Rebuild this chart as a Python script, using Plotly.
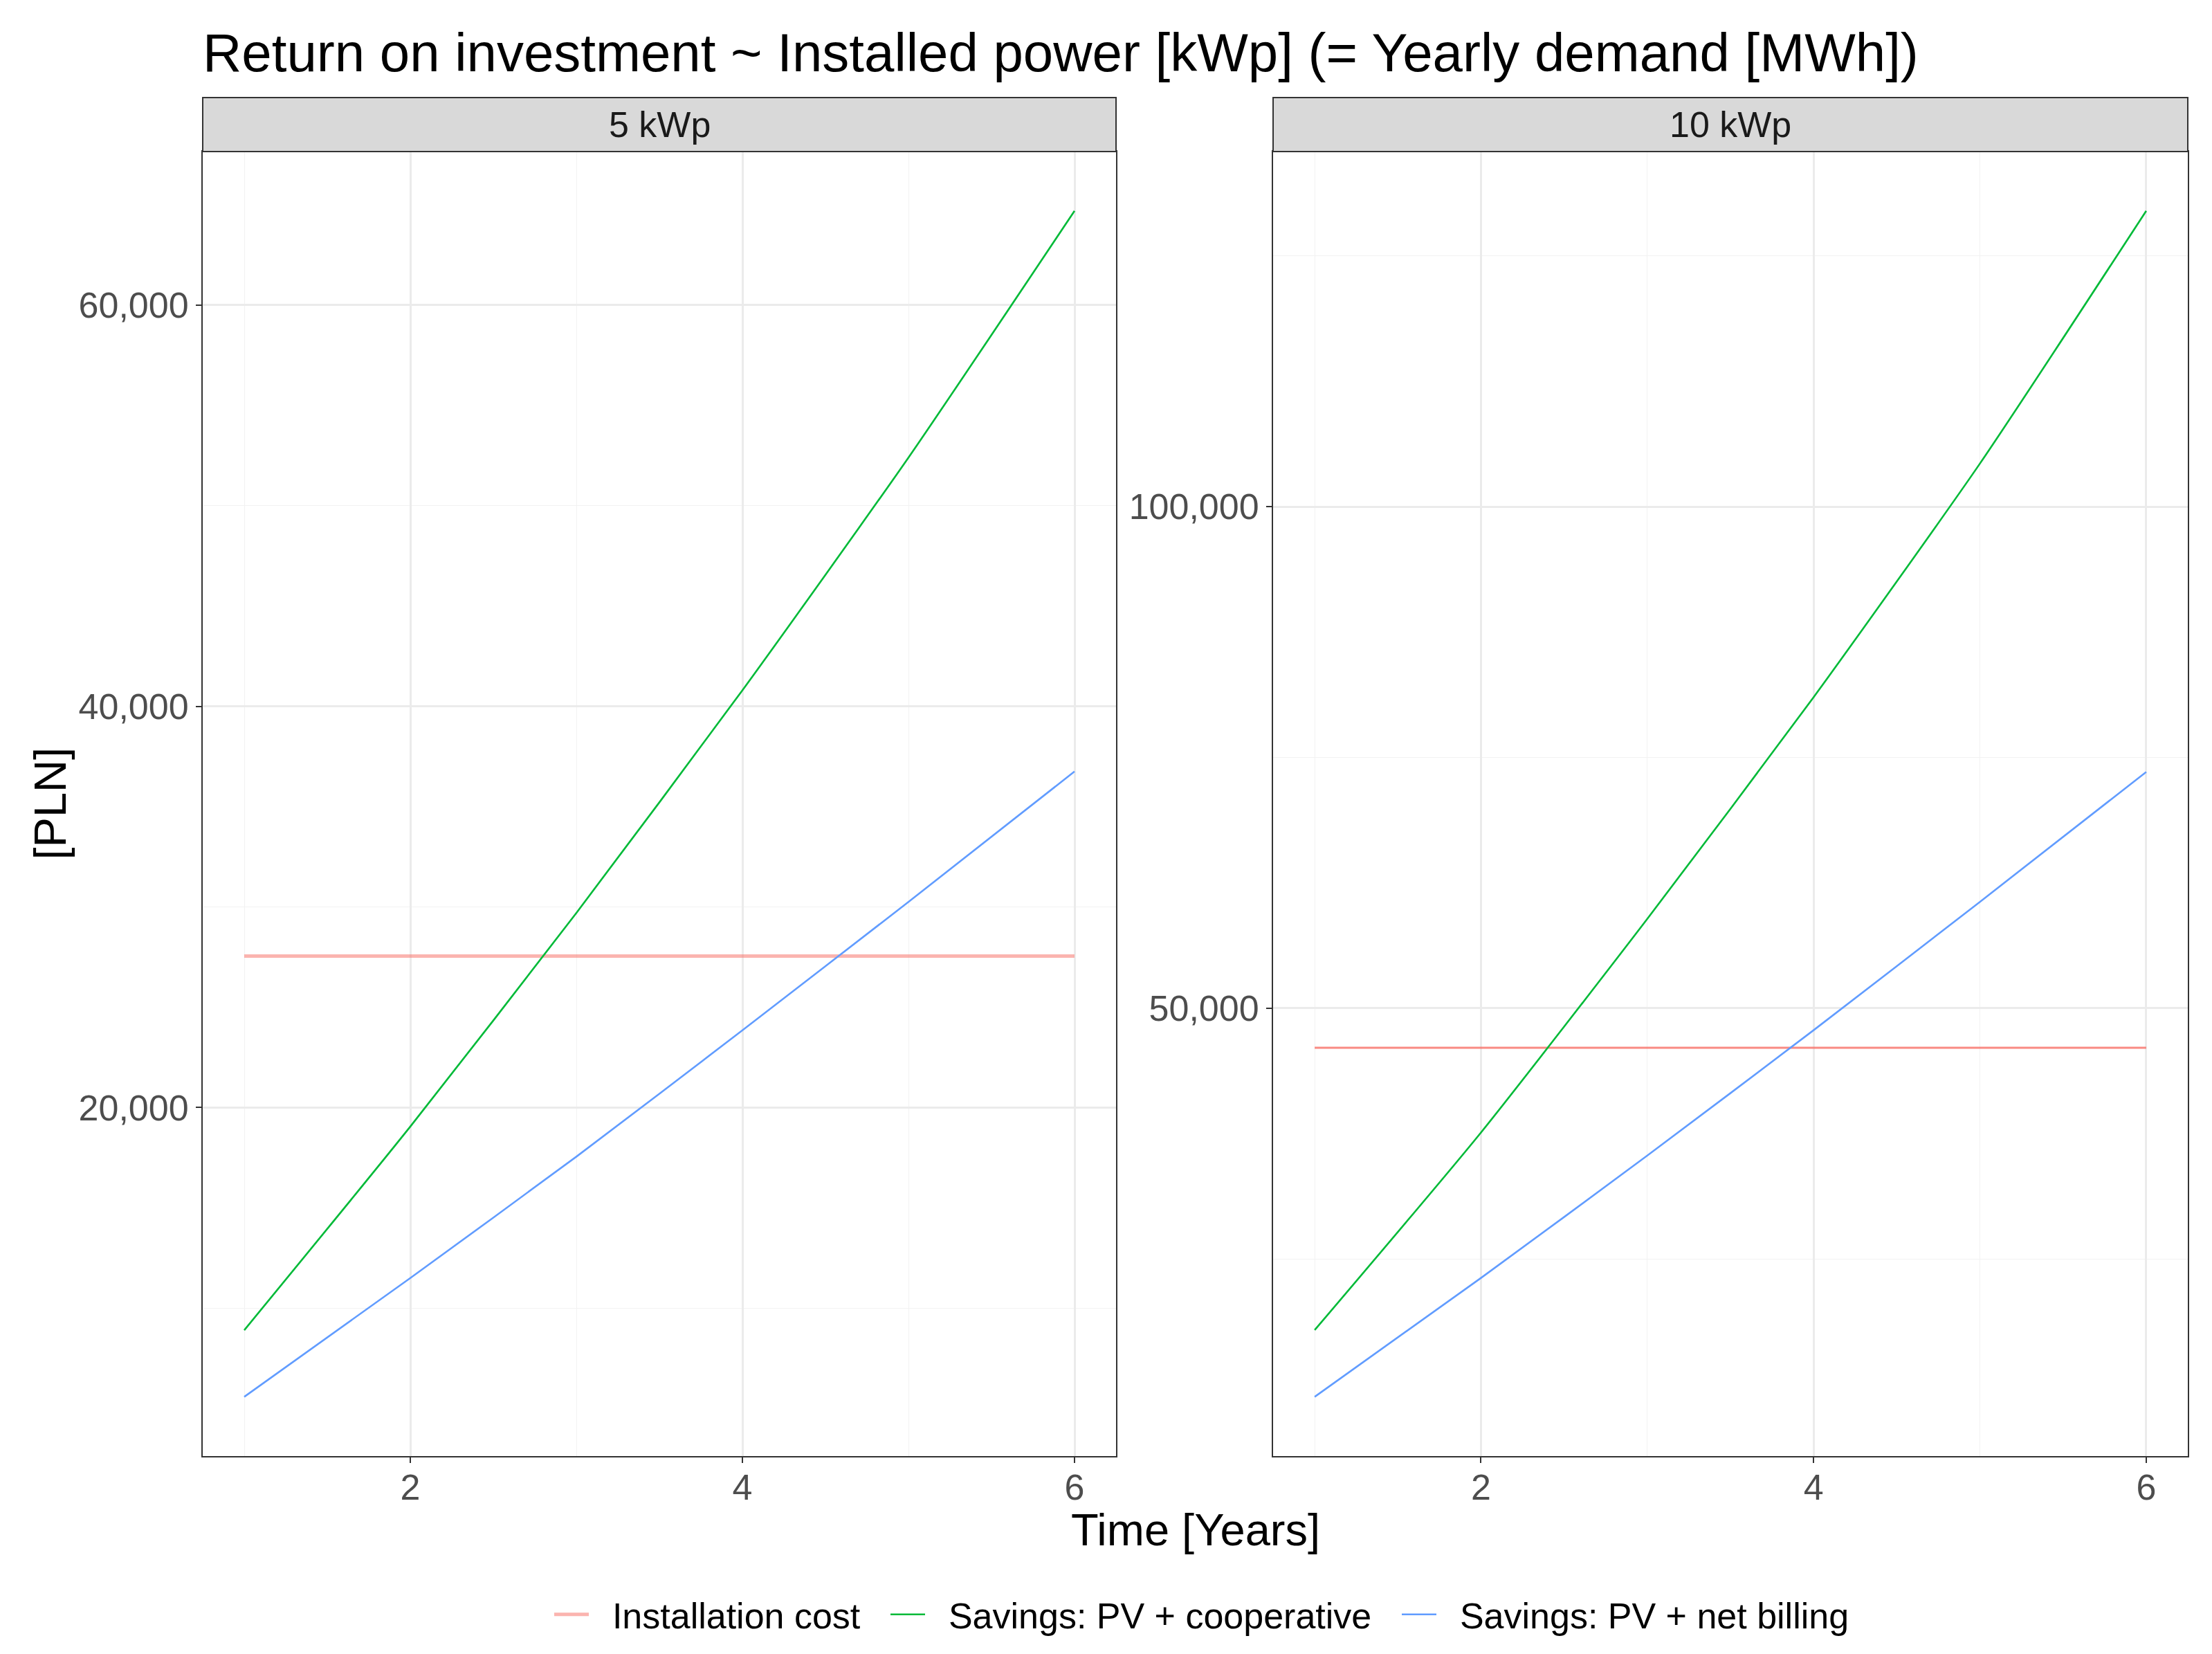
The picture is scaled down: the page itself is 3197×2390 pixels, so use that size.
import plotly.graph_objects as go

years = [1, 2, 3, 4, 5, 6]
panels = ["5 kWp", "10 kWp"]
series_names = ["Installation cost", "Savings: PV + cooperative", "Savings: PV + net billing"]

cost_5 = [27550, 27550, 27550, 27550, 27550, 27550]
coop_5 = [8900, 19050, 29700, 40800, 52400, 64700]
net_5 = [5580, 11500, 17550, 23850, 30250, 36750]

cost_10 = [46050, 46050, 46050, 46050, 46050, 46050]
coop_10 = [17900, 37600, 58900, 81000, 104300, 129500]
net_10 = [11250, 23100, 35300, 47800, 60600, 73550]

y_ticks_5 = [20000, 40000, 60000]
y_ticks_10 = [50000, 100000]
x_ticks = [2, 4, 6]

colors = [["rgba(248,118,109,0.55)", "#00BA38", "#619CFF"],
          ["rgba(248,118,109,0.85)", "#00BA38", "#619CFF"]]
widths = [[5, 2.6, 2.6], [3.2, 2.6, 2.6]]

W, H = 3197, 2390
FONT = "Liberation Sans"
GAP = "\u00a0\u00a0"

def px_x(v):
    return v / W

def px_y(v):
    return 1 - v / H

dom_x = [[px_x(293), px_x(1613)], [px_x(1840), px_x(3162)]]
dom_y = [px_y(2104), px_y(219)]
strip_top = px_y(141)

def expand(vals):
    lo, hi = min(vals), max(vals)
    r = hi - lo
    return [lo - 0.05 * r, hi + 0.05 * r]

fig = go.Figure()

legend_ids = ["legend", "legend2", "legend3"]
data = [[cost_5, coop_5, net_5], [cost_10, coop_10, net_10]]
for p, pdata in enumerate(data):
    for s, vals in enumerate(pdata):
        fig.add_trace(go.Scatter(
            x=years, y=vals, mode="lines", name=GAP + series_names[s],
            line=dict(color=colors[p][s], width=widths[p][s], shape="spline", smoothing=0.6),
            showlegend=(p == 0), legend=legend_ids[s],
            xaxis="x" if p == 0 else "x2", yaxis="y" if p == 0 else "y2",
        ))

xr = expand(years)
axis_common = dict(
    showline=True, mirror=True, linecolor="#333333", linewidth=2,
    ticks="outside", ticklen=8, tickwidth=2, tickcolor="#333333",
    tickfont=dict(family=FONT, size=52, color="#4D4D4D"),
    showgrid=True, gridcolor="#EBEBEB", gridwidth=2.5, zeroline=False,
)
minor_common = dict(showgrid=True, gridcolor="#F2F2F2", gridwidth=1.3, ticks="")

fig.update_layout(
    xaxis=dict(domain=dom_x[0], range=xr, tickvals=x_ticks, anchor="y", ticklabelstandoff=-9,
               minor=dict(tickvals=[1, 3, 5], **minor_common), **axis_common),
    xaxis2=dict(domain=dom_x[1], range=xr, tickvals=x_ticks, anchor="y2", ticklabelstandoff=-9,
                minor=dict(tickvals=[1, 3, 5], **minor_common), **axis_common),
    yaxis=dict(domain=dom_y, range=expand(cost_5 + coop_5 + net_5), tickvals=y_ticks_5,
               tickformat=",d", anchor="x",
               minor=dict(tickvals=[10000, 30000, 50000], **minor_common), **axis_common),
    yaxis2=dict(domain=dom_y, range=expand(cost_10 + coop_10 + net_10), tickvals=y_ticks_10,
                tickformat=",d", anchor="x2",
                minor=dict(tickvals=[25000, 75000, 125000], **minor_common), **axis_common),
    width=W, height=H,
    margin=dict(l=0, r=0, t=0, b=0),
    paper_bgcolor="white", plot_bgcolor="white",
    font=dict(family=FONT, color="black"),
    title=dict(text="Return on investment ~ Installed power [kWp] (= Yearly demand [MWh])",
               x=px_x(293), xanchor="left", y=px_y(76), yanchor="middle",
               font=dict(family=FONT, size=78, color="black")),
)

legend_x = [808, 1294, 2033]
for i, lid in enumerate(legend_ids):
    fig.update_layout({lid: dict(orientation="h", x=px_x(legend_x[i] - 12), xanchor="left",
                                 y=px_y(2333), yanchor="middle",
                                 font=dict(family=FONT, size=52, color="black"),
                                 itemwidth=50, bgcolor="rgba(0,0,0,0)")})

shapes = []
annotations = []
for p in range(2):
    shapes.append(dict(type="rect", xref="paper", yref="paper",
                       x0=dom_x[p][0], x1=dom_x[p][1], y0=dom_y[1], y1=strip_top,
                       fillcolor="#D9D9D9", line=dict(color="#333333", width=2)))
    annotations.append(dict(text=panels[p], xref="paper", yref="paper",
                            x=(dom_x[p][0] + dom_x[p][1]) / 2, y=(dom_y[1] + strip_top) / 2,
                            xanchor="center", yanchor="middle", showarrow=False,
                            font=dict(family=FONT, size=52, color="#1A1A1A")))

annotations.append(dict(text="Time [Years]", xref="paper", yref="paper",
                        x=(dom_x[0][0] + dom_x[1][1]) / 2, y=px_y(2210),
                        xanchor="center", yanchor="middle", showarrow=False,
                        font=dict(family=FONT, size=65, color="black")))
annotations.append(dict(text="[PLN]", xref="paper", yref="paper",
                        x=px_x(72), y=(dom_y[0] + dom_y[1]) / 2, textangle=-90,
                        xanchor="center", yanchor="middle", showarrow=False,
                        font=dict(family=FONT, size=65, color="black")))

fig.update_layout(shapes=shapes, annotations=annotations)

fig.write_html("out.html", config={"displayModeBar": False},
               post_script="document.body.style.margin='0';")
